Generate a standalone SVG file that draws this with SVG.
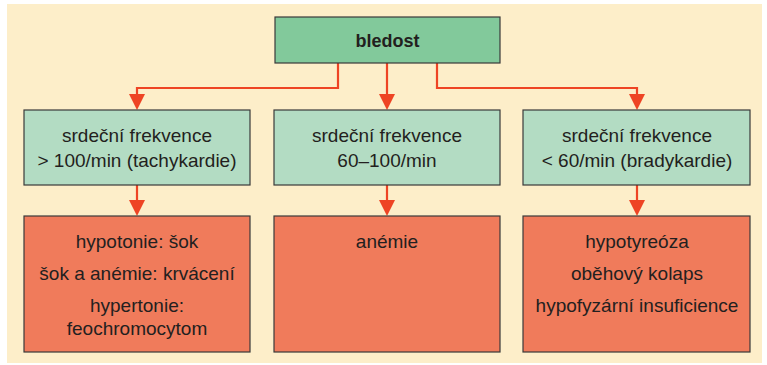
<svg xmlns="http://www.w3.org/2000/svg" width="767" height="365" viewBox="0 0 767 365">
<defs>
<style>
.bg{fill:#fdeec9}
.box{stroke:#3a3a3a;stroke-width:1.2}
.top{fill:#82c99b}
.mid{fill:#b3dcc3}
.bot{fill:#f07b5b}
.conn{fill:none;stroke:#ee4424;stroke-width:2.2}
.head{fill:#ee4424}
text{font-family:"Liberation Sans",Arial,sans-serif;font-size:19px;fill:#231f20;text-anchor:middle}
.b{font-weight:bold;font-size:18px}
</style>
</defs>
<rect class="bg" x="7" y="4" width="755" height="359"/>
<g id="connectors">
<path class="conn" d="M338,63 V88 H137 V94"/>
<path class="conn" d="M387,63 V94"/>
<path class="conn" d="M437,63 V88 H637 V94"/>
<path class="head" d="M129,94 H145 L137,110 Z"/>
<path class="head" d="M379,94 H395 L387,110 Z"/>
<path class="head" d="M629,94 H645 L637,110 Z"/>
<path class="conn" d="M137,185 V200"/>
<path class="conn" d="M387,185 V200"/>
<path class="conn" d="M637,185 V200"/>
<path class="head" d="M129,200 H145 L137,216 Z"/>
<path class="head" d="M379,200 H395 L387,216 Z"/>
<path class="head" d="M629,200 H645 L637,216 Z"/>
</g>
<g id="bledost">
<rect class="box top" x="275" y="17" width="225" height="46"/>
<text class="b" x="387.5" y="46.5">bledost</text>
</g>
<g id="tachy">
<rect class="box mid" x="24" y="110" width="226" height="75"/>
<text x="137" y="141.5">srdeční frekvence</text>
<text x="137" y="166.5">&gt; 100/min (tachykardie)</text>
</g>
<g id="normo">
<rect class="box mid" x="274" y="110" width="226" height="75"/>
<text x="387" y="141.5">srdeční frekvence</text>
<text x="387" y="166.5">60–100/min</text>
</g>
<g id="brady">
<rect class="box mid" x="523" y="110" width="227" height="75"/>
<text x="637" y="141.5">srdeční frekvence</text>
<text x="637" y="166.5">&lt; 60/min (bradykardie)</text>
</g>
<g id="tachy-causes">
<rect class="box bot" x="24" y="216" width="226" height="136"/>
<text x="137" y="247.5">hypotonie: šok</text>
<text x="137" y="279.5">šok a anémie: krvácení</text>
<text x="137" y="311.5">hypertonie:</text>
<text x="137" y="335">feochromocytom</text>
</g>
<g id="normo-causes">
<rect class="box bot" x="274" y="216" width="226" height="136"/>
<text x="387" y="247.5">anémie</text>
</g>
<g id="brady-causes">
<rect class="box bot" x="523" y="216" width="227" height="136"/>
<text x="637" y="247.5">hypotyreóza</text>
<text x="637" y="279.5">oběhový kolaps</text>
<text x="637" y="311.5">hypofyzární insuficience</text>
</g>
</svg>
